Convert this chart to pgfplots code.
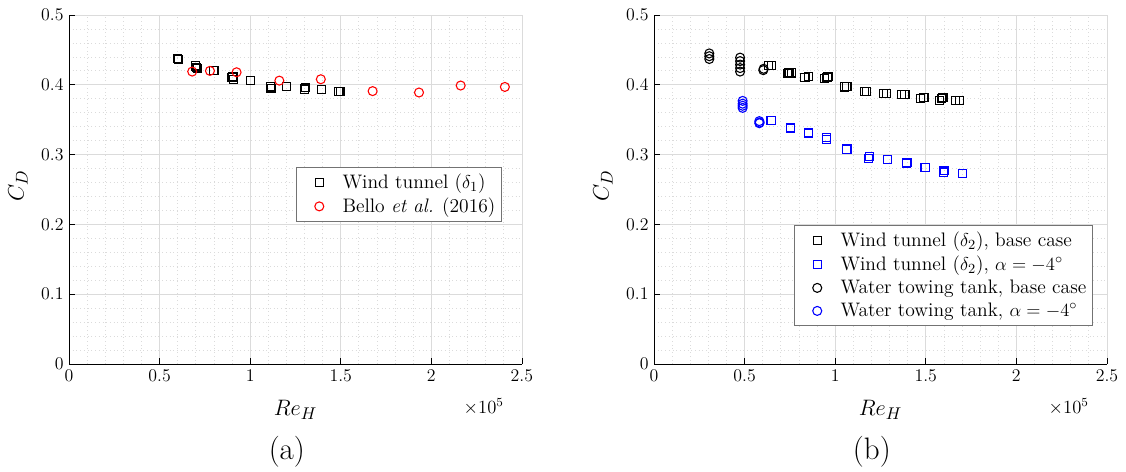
\documentclass[border=0pt]{standalone}
\usepackage{pgfplots}
\pgfplotsset{compat=1.18}
\pgfplotstableread{
x y
0.600 0.438
0.605 0.436
0.700 0.427
0.710 0.424
0.705 0.425
0.800 0.421
0.900 0.410
0.905 0.412
0.910 0.408
1.000 0.406
1.110 0.397
1.115 0.395
1.200 0.398
1.300 0.394
1.305 0.396
1.395 0.393
1.490 0.391
1.500 0.390
}\windA
\pgfplotstableread{
x y
0.680 0.419
0.778 0.420
0.925 0.418
1.161 0.406
1.390 0.408
1.676 0.391
1.932 0.389
2.162 0.399
2.406 0.397
}\bello
\pgfplotstableread{
x y
0.631 0.428
0.649 0.428
0.737 0.416
0.758 0.417
0.745 0.418
0.833 0.411
0.853 0.412
0.940 0.409
0.955 0.410
0.960 0.412
1.050 0.397
1.065 0.398
1.160 0.390
1.175 0.391
1.265 0.388
1.285 0.388
1.365 0.386
1.385 0.386
1.470 0.381
1.490 0.382
1.575 0.378
1.585 0.380
1.595 0.382
1.665 0.377
1.685 0.378
}\windBbase
\pgfplotstableread{
x y
0.646 0.349
0.751 0.337
0.753 0.339
0.853 0.331
0.950 0.322
0.952 0.325
1.065 0.308
1.185 0.295
1.187 0.297
1.289 0.293
1.394 0.287
1.396 0.289
1.496 0.281
1.599 0.275
1.601 0.277
1.703 0.273
}\windBalpha
\pgfplotstableread{
x y
0.305 0.445
0.305 0.441
0.305 0.437
0.475 0.439
0.475 0.434
0.475 0.429
0.475 0.424
0.475 0.419
0.603 0.421
0.605 0.423
}\waterbase
\pgfplotstableread{
x y
0.489 0.377
0.489 0.373
0.489 0.370
0.489 0.367
0.581 0.348
0.581 0.345
0.583 0.346
}\wateralpha
\begin{document}
\begin{tikzpicture}
\useasboundingbox (-44.5pt,-69.6pt) rectangle (681.5pt,234.7pt);
\pgfplotsset{
 myax/.style={
  scale only axis, width=292pt, height=225pt,
  anchor=south west,
  xmin=0,xmax=2.5,ymin=0,ymax=0.5,
  clip=false,
  axis x line*=bottom, axis y line*=left,
  xtick={0,0.5,1,1.5,2,2.5}, xticklabels={0,0.5,1,1.5,2,2.5},
  ytick={0,0.1,0.2,0.3,0.4,0.5}, yticklabels={0,0.1,0.2,0.3,0.4,0.5},
  scaled ticks=false,
  tick label style={font=\fontsize{11.5}{13}\selectfont},
  minor x tick num=4, minor y tick num=4,
  grid=both,
  major grid style={draw=black!14, line width=0.5pt},
  minor grid style={draw=black!14, dotted, line width=0.5pt},
  tick align=inside, major tick length=4pt, minor tick length=0pt,
  tick style={black, line width=0.5pt},
  axis line style={black, line width=0.5pt, -},
  xlabel={$Re_H$}, ylabel={$C_D$},
  label style={font=\fontsize{15}{18}\selectfont},
  xlabel style={at={(axis description cs:0.5,-0.132)}, anchor=center},
  ylabel style={at={(axis description cs:-0.1126,0.51)}, anchor=center},
  legend style={draw=black!55, line width=0.5pt, font=\fontsize{12.6}{14.5}\selectfont,
    cells={anchor=west}, row sep=0.6pt, inner sep=2pt},
 },
 myimg/.style={legend image code/.code={\path[draw=none,fill=none] (0pt,0pt) -- (26pt,0pt);\draw[##1, only marks] plot coordinates {(13pt,0pt)};}},
 sq/.style={only marks, mark=square, mark size=2.6pt, line width=0.7pt, myimg},
 ci/.style={only marks, mark=o, mark size=2.9pt, line width=0.7pt, myimg},
}
\begin{axis}[myax, at={(0pt,0pt)},
  legend style={at={(0.956,0.564)}, anchor=north east}]
\addplot[sq, black] table {\windA};
\addlegendentry{Wind tunnel ($\delta_1$)}
\addplot[ci, red] table {\bello};
\addlegendentry{Bello \textit{et al.} (2016)}
\node[anchor=east, font=\fontsize{12}{14}\selectfont] at (axis description cs:0.972,-0.123) {$\times10^5$};
\node[font=\fontsize{20}{24}\selectfont] at (axis description cs:0.481,-0.252) {(a)};
\end{axis}
\begin{axis}[myax, at={(377.2pt,0pt)},
  legend style={at={(0.969,0.398)}, anchor=north east}]
\addplot[sq, black] table {\windBbase};
\addlegendentry{Wind tunnel ($\delta_2$), base case}
\addplot[sq, blue] table {\windBalpha};
\addlegendentry{Wind tunnel ($\delta_2$), $\alpha=-4^{\circ}$}
\addplot[ci, black] table {\waterbase};
\addlegendentry{Water towing tank, base case}
\addplot[ci, blue] table {\wateralpha};
\addlegendentry{Water towing tank, $\alpha=-4^{\circ}$}
\node[anchor=east, font=\fontsize{12}{14}\selectfont] at (axis description cs:0.972,-0.123) {$\times10^5$};
\node[font=\fontsize{20}{24}\selectfont] at (axis description cs:0.481,-0.252) {(b)};
\end{axis}
\end{tikzpicture}
\end{document}
